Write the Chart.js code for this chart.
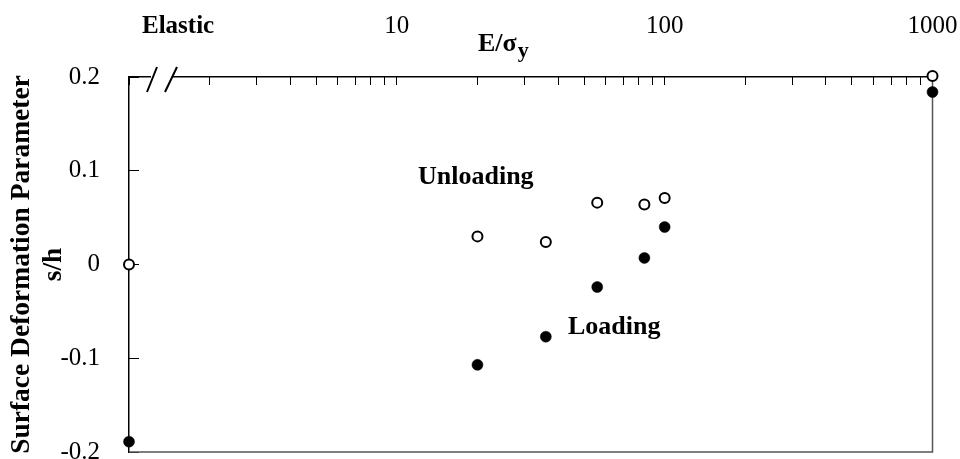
<!DOCTYPE html>
<html>
<head>
<meta charset="utf-8">
<script src="https://cdn.jsdelivr.net/npm/chart.js@4.4.1/dist/chart.umd.min.js"></script>
<style>
  html, body { margin: 0; padding: 0; background: #fff; }
  #wrap { width: 960px; height: 459px; }
</style>
</head>
<body>
<div id="wrap"><canvas id="chart" width="960" height="459"></canvas></div>
<script>
// E/sigma_y values (1 stands for the elastic case, sitting on the axis break)
const modulusRatio = [1, 20, 36, 56, 84, 100, 1000];
// surface deformation parameter s/h
const unloadingS = [0, 0.030, 0.024, 0.066, 0.064, 0.071, 0.201];
const loadingS = [-0.189, -0.107, -0.077, -0.024, 0.007, 0.040, 0.184];

// top axis ticks (log) and the ones that get a label
const xTickValues = [1, 2, 3, 4, 5, 6, 7, 8, 9,
                     10, 20, 30, 40, 50, 60, 70, 80, 90,
                     100, 200, 300, 400, 500, 600, 700, 800, 900, 1000];
const xTickLabels = ['10', '100', '1000'];

const serif = "'Liberation Serif', 'Times New Roman', serif";
Chart.defaults.font.family = serif;
Chart.defaults.color = '#000';

function toPoints(ys) {
    return modulusRatio.map((x, i) => ({ x: x, y: ys[i] }));
}

// frame, axis break and free text labels
const decorPlugin = {
    id: 'decor',
    beforeDatasetsDraw(chart) {
        const { ctx, chartArea: a } = chart;
        ctx.save();
        ctx.strokeStyle = '#555';
        ctx.lineWidth = 1.5;
        ctx.beginPath();
        ctx.moveTo(a.left, a.bottom);
        ctx.lineTo(a.right, a.bottom);
        ctx.lineTo(a.right, a.top);
        ctx.stroke();

        // axis break "//"
        ctx.fillStyle = '#fff';
        ctx.fillRect(a.left + 22, a.top - 3, 21, 6);
        ctx.strokeStyle = '#000';
        ctx.lineWidth = 2;
        ctx.beginPath();
        ctx.moveTo(a.left + 18, a.top + 15);
        ctx.lineTo(a.left + 28, a.top - 10);
        ctx.moveTo(a.left + 36, a.top + 15);
        ctx.lineTo(a.left + 48, a.top - 10);
        ctx.stroke();
        ctx.restore();
    },
    afterDraw(chart) {
        const { ctx } = chart;
        ctx.save();
        ctx.fillStyle = '#000';
        ctx.textBaseline = 'alphabetic';
        ctx.textAlign = 'left';
        ctx.font = 'bold 25px ' + serif;
        ctx.fillText('Elastic', 142, 33);
        ctx.font = 'bold 26px ' + serif;
        ctx.fillText('Unloading', 418, 184);
        ctx.fillText('Loading', 568, 334);

        // x title E/σy
        let x = 478;
        ctx.font = 'bold 26px ' + serif;
        ctx.fillText('E/σ', x, 51);
        x += ctx.measureText('E/σ').width + 1;
        ctx.font = 'bold 22px ' + serif;
        ctx.fillText('y', x, 57);
        ctx.restore();
    }
};

new Chart(document.getElementById('chart'), {
    type: 'scatter',
    data: {
        datasets: [
            {
                label: 'Unloading',
                data: toPoints(unloadingS),
                pointStyle: 'circle',
                pointRadius: 5,
                pointBorderWidth: 2,
                pointBackgroundColor: '#fff',
                pointBorderColor: '#000',
                clip: false
            },
            {
                label: 'Loading',
                data: toPoints(loadingS),
                pointStyle: 'circle',
                pointRadius: 5.5,
                pointBorderWidth: 0.5,
                pointBackgroundColor: '#000',
                pointBorderColor: '#000',
                clip: false
            }
        ]
    },
    options: {
        responsive: false,
        animation: false,
        layout: { padding: { left: 0, top: 0, right: 27.5, bottom: 7 } },
        plugins: {
            legend: { display: false },
            tooltip: { enabled: false }
        },
        scales: {
            x: {
                type: 'logarithmic',
                position: 'top',
                min: 1,
                max: 1000,
                afterBuildTicks: (scale) => {
                    scale.ticks = xTickValues.map(v => ({ value: v }));
                },
                afterFit: (scale) => {
                    scale.height = 77;
                    scale.paddingLeft = 0;
                    scale.paddingRight = 0;
                },
                ticks: {
                    autoSkip: false,
                    maxRotation: 0,
                    padding: 44,
                    font: { size: 25 },
                    callback: (v) => xTickLabels.includes(String(v)) ? String(v) : ''
                },
                grid: {
                    drawOnChartArea: false,
                    drawTicks: true,
                    tickLength: -8,
                    color: '#000',
                    lineWidth: 1
                },
                border: { display: true, color: '#000', width: 1.5 }
            },
            y: {
                type: 'linear',
                min: -0.2,
                max: 0.2,
                afterFit: (scale) => {
                    scale.width = 129;
                    scale.paddingTop = 0;
                    scale.paddingBottom = 0;
                },
                ticks: {
                    stepSize: 0.1,
                    padding: 39,
                    font: { size: 25 },
                    callback: (v) => String(Math.round(v * 10) / 10)
                },
                grid: {
                    drawOnChartArea: false,
                    drawTicks: true,
                    tickLength: -10,
                    color: '#000',
                    lineWidth: 1
                },
                border: { display: true, color: '#000', width: 1.5 },
                title: {
                    display: true,
                    text: ['Surface Deformation Parameter', 's/h'],
                    font: { size: 27.5, weight: 'bold', lineHeight: 1.15 },
                    padding: { top: 6, bottom: 0 },
                    color: '#000'
                }
            }
        }
    },
    plugins: [decorPlugin]
});
</script>
</body>
</html>
